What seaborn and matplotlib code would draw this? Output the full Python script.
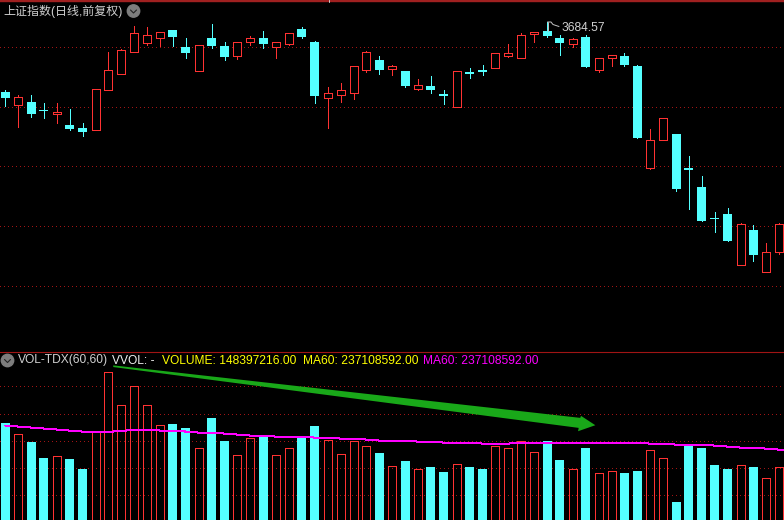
import numpy as np
import pandas as pd
import matplotlib
matplotlib.use("Agg")
import matplotlib.pyplot as plt
from matplotlib.patches import Polygon, Circle
import seaborn as sns

# Daily index candles (points)
opens = [3474,3436,3444,3419,3408,3375,3366,3360,3480,3528,3594,3621,3636,3660,3609,3537,3636,3612,3582,3624,3636,
         3609,3618,3663,3624,3456,3465,3471,3540,3570,3543,3537,3483,3492,3468,3429,3534,3540,3546,3582,3576,
         3649,3657,3636,3618,3639,3540,3576,3582,3552,3246,3330,3348,3246,3189,3096,3108,2955,3060,2934,2994]
closes = [3456,3458,3408,3417,3414,3363,3354,3483,3540,3600,3651,3645,3654,3639,3591,3615,3612,3579,3624,3636,3618,
          3624,3651,3639,3462,3471,3480,3552,3594,3540,3552,3492,3495,3480,3462,3537,3528,3534,3591,3591,3645,
          3654,3642,3621,3633,3549,3576,3585,3555,3336,3330,3396,3183,3240,3087,3093,3027,3078,2985,2994,3078]
highs = [3480,3465,3465,3441,3441,3423,3381,3483,3594,3602,3672,3669,3654,3660,3636,3615,3678,3624,3624,3642,3657,
         3624,3651,3669,3627,3489,3501,3552,3597,3582,3555,3537,3513,3522,3480,3537,3546,3555,3591,3618,3651,
         3654,3684,3645,3636,3645,3576,3585,3591,3555,3363,3396,3348,3282,3222,3114,3126,3081,3075,3021,3081]
lows = [3432,3369,3399,3396,3381,3360,3342,3360,3480,3528,3594,3615,3612,3612,3576,3537,3606,3570,3573,3615,3606,
        3576,3615,3636,3441,3366,3444,3453,3534,3528,3525,3489,3480,3471,3438,3429,3516,3525,3546,3579,3576,
        3624,3639,3585,3609,3549,3534,3552,3552,3336,3243,3330,3177,3123,3087,3054,3027,2955,2967,2934,2988]
volumes = [291,260,234,186,194,183,153,269,443,344,401,344,287,288,276,218,306,237,197,248,252,
           197,218,246,282,242,200,239,224,201,164,177,155,159,144,170,159,153,224,218,239,
           206,237,180,155,216,143,149,141,147,212,188,54,225,216,165,153,167,159,128,161]
ma60 = [284,281,278,275,272,269,266,264,265,268,271,272,269,269,266,263,263,260,257,254,253,
        251,251,251,248,248,245,245,242,239,239,239,236,236,233,233,233,230,230,230,233,
        233,233,233,233,233,233,233,233,233,230,230,227,227,227,224,221,218,218,215,212,211]
title_text = "上证指数(日线,前复权)"
high_label = "3684.57"
ind_labels = ["VOL-TDX(60,60)", "VVOL: -", "VOLUME: 148397216.00", "MA60: 237108592.00", "MA60: 237108592.00"]
price_grid = [3607.5, 3428, 3251, 3071, 2891]
vol_grid = [401, 320, 239, 158, 77]

RED, CYAN, GRID, MAG, GREEN = "#ff3232", "#54ffff", "#a01414", "#ff00ff", "#19a819"

sns.set_theme(style="dark", rc={"axes.facecolor": "black", "figure.facecolor": "black"})
plt.rcParams['font.family'] = ['Liberation Sans', 'Noto Sans CJK SC', 'DejaVu Sans']

W, H = 784, 520
fig = plt.figure(figsize=(W / 100, H / 100), dpi=100)
ax = fig.add_axes([0, (H - 352) / H, 1, 352 / H])
ax2 = fig.add_axes([0, 0, 1, 168 / H])

df = pd.DataFrame({"i": np.arange(len(opens)), "open": opens, "close": closes, "high": highs,
                   "low": lows, "vol": volumes})
df["up"] = df["close"] >= df["open"]
ma_df = pd.DataFrame({"i": np.arange(len(ma60)), "ma": ma60})
xlim = (-0.41, (W - 5.3) / 12.9)
px = 1 * 72 / 100
bw_red = 8 / 12.9
bw_cyan = 9 / 12.9

up, dn = df[df.up], df[~df.up]
ax.vlines(up["i"], up["low"], up["high"], color=RED, lw=px, zorder=3, antialiased=False)
ax.vlines(dn["i"], dn["low"], dn["high"], color=CYAN, lw=px, zorder=3, antialiased=False)
ax.bar(up["i"], up["close"] - up["open"], bottom=up["open"], width=bw_red, facecolor="black",
       edgecolor=RED, linewidth=px, zorder=4, antialiased=False)
ax.bar(dn["i"], dn["close"] - dn["open"], bottom=dn["open"], width=bw_cyan, color=CYAN,
       linewidth=0, zorder=4, antialiased=False)
ax.set_xlim(*xlim)
ax.set_ylim(3750 - 352 * 3, 3750)
ax.set_yticks(price_grid)

sns.barplot(data=dn, x="i", y="vol", native_scale=True, color=CYAN, width=bw_cyan, saturation=1,
            linewidth=0, ax=ax2, zorder=3)
sns.barplot(data=up, x="i", y="vol", native_scale=True, color=RED, width=bw_red, saturation=1, fill=False,
            linewidth=px, ax=ax2, zorder=3)
for k, p in enumerate(ax2.patches):
    p.set_antialiased(False)
    if k >= len(dn):
        p.set_edgecolor(RED)
sns.lineplot(data=ma_df, x="i", y="ma", color=MAG, lw=px, ax=ax2, zorder=5, errorbar=None,
             antialiased=False)
ax2.set_xlim(*xlim)
ax2.set_ylim(1.5, 168 * 3)
ax2.set_yticks(vol_grid)

for a in (ax, ax2):
    a.set_xticks([])
    a.set_xlabel("")
    a.set_ylabel("")
    a.tick_params(length=0, labelleft=False, labelbottom=False)
    a.set_axisbelow(True)
    a.grid(False)
    a.grid(axis="y", color=GRID, lw=px, linestyle=(0, (1, 3)), antialiased=False)
    for s in a.spines.values():
        s.set_visible(False)
ax2.spines["top"].set_visible(True)
ax2.spines["top"].set_color("#a01414")
ax2.spines["top"].set_linewidth(1.1 * px)
ax.spines["top"].set_visible(True)
ax.spines["top"].set_color("#a02020")
ax.spines["top"].set_linewidth(3.4 * px)


def label(xp, yp, s, color):
    fig.text(xp / W, 1 - yp / H, s, color=color, fontsize=8.64, ha="left", va="center")


label(3, 11, title_text, "#d0d0d0")
label(561, 28, high_label, "#d0d0d0")
label(18, 360.5, ind_labels[0], "#d0d0d0")
label(112, 360.5, ind_labels[1], "#f0f0f0")
label(162, 360.5, ind_labels[2], "#ffff00")
label(303, 360.5, ind_labels[3], "#ffff00")
label(423, 360.5, ind_labels[4], MAG)

# collapse icons
for cx, cy in [(133.5, 11), (7.5, 360.5)]:
    fig.add_artist(Circle((cx, H - cy), 6.2, transform=None, color="#7d7d7d", zorder=6))
    fig.add_artist(plt.Line2D([cx - 3, cx, cx + 3], [H - cy + 1, H - cy - 2, H - cy + 1], transform=None,
                              color="#222222", lw=1.1 * px, zorder=7))

# high-point flag
fig.add_artist(plt.Line2D([547.5, 547.5], [H - 31, H - 22], transform=None, color="#c0c0c0", lw=px))
fig.add_artist(plt.Line2D([547.5, 551, 553, 559], [H - 22, H - 22, H - 24.5, H - 26.5], transform=None,
                          color="#c0c0c0", lw=px))
# small cursor tick on the top border
fig.add_artist(plt.Line2D([329, 329], [H - 2, H], transform=None, color="#c8c8c8", lw=px))

# trend arrow
arrow = Polygon([(8.37, 464), (44.57, 307), (44.63, 313), (45.74, 285), (44.4, 267), (44.45, 277), (8.37, 459)],
                closed=True, facecolor=GREEN, edgecolor="none", zorder=6)
ax2.add_patch(arrow)
arrow.set_clip_on(False)

fig.savefig("out.png", dpi=100, facecolor="black")
